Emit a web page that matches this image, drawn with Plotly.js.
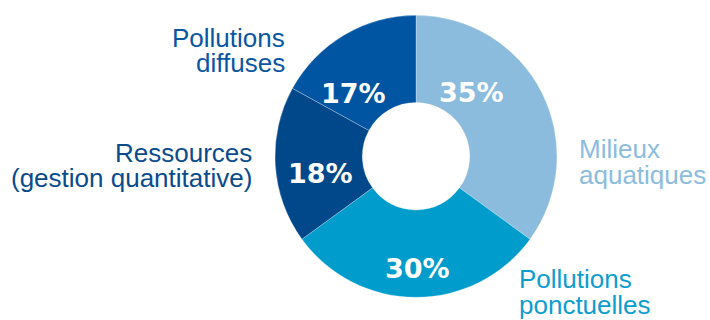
<!DOCTYPE html>
<html>
<head>
<meta charset="utf-8">
<script src="https://cdn.plot.ly/plotly-3.0.1.min.js"></script>
<style>html,body{margin:0;padding:0;background:#fff;}#chart{width:710px;height:320px;}</style>
</head>
<body>
<div id="chart"></div>
<script>
// Data
var categories = ['Milieux<br>aquatiques', 'Pollutions<br>ponctuelles', 'Ressources<br>(gestion quantitative)', 'Pollutions<br>diffuses'];
var values = [35, 30, 18, 17];
var sliceColors = ['#8bbbdd', '#009ccb', '#004889', '#0055a2'];
var labelColors = ['#8bbcde', '#0d9dcf', '#0a4b8c', '#0a56a3'];

// Layout constants (pixels)
var W = 710, H = 320;
var cx = 416, cy = 156.3, R = 141, rHole = 53.7;
// percentage label centres
var pctPos = [[471, 92.5], [417, 268], [320, 173], [353, 94]];
// outside label: anchor x, first baseline, side
var lblPos = [[577, 158.3, 'left'], [517, 288.3, 'left'], [254, 161.7, 'right'], [287, 46.7, 'right']];
var lineGap = 25.5;

function px(x) { return x / W; }
function py(y) { return 1 - y / H; }

var trace = {
  type: 'pie',
  values: values,
  labels: categories,
  sort: false,
  direction: 'clockwise',
  rotation: 0,
  hole: rHole / R,
  textinfo: 'none',
  hoverinfo: 'label+percent',
  marker: { colors: sliceColors, line: { color: 'rgba(255,255,255,0.45)', width: 0.6 } },
  domain: { x: [px(cx - R), px(cx + R)], y: [py(cy + R), py(cy - R)] },
  showlegend: false
};

var annotations = [];
var total = values.reduce(function (a, b) { return a + b; }, 0);
values.forEach(function (v, i) {
  annotations.push({
    xref: 'paper', yref: 'paper', x: px(pctPos[i][0]), y: py(pctPos[i][1]),
    xanchor: 'center', yanchor: 'middle', showarrow: false,
    text: Math.round(v / total * 100) + '%',
    font: { family: 'DejaVu Sans', size: 27, color: '#ffffff', weight: 'bold' }
  });
  var lines = categories[i].split('<br>');
  lines.forEach(function (ln, k) {
    var base = lblPos[i][1] + k * lineGap;
    annotations.push({
      xref: 'paper', yref: 'paper', x: px(lblPos[i][0]), y: py(base - 9),
      xanchor: lblPos[i][2], yanchor: 'middle', showarrow: false,
      text: ln, align: lblPos[i][2],
      font: { family: 'Liberation Sans, Arial, sans-serif', size: 26, color: labelColors[i] }
    });
  });
});

var layout = {
  width: W, height: H,
  margin: { l: 0, r: 0, t: 0, b: 0 },
  paper_bgcolor: '#ffffff',
  plot_bgcolor: '#ffffff',
  annotations: annotations
};

Plotly.newPlot('chart', [trace], layout, { displayModeBar: false, staticPlot: true });
</script>
</body>
</html>
